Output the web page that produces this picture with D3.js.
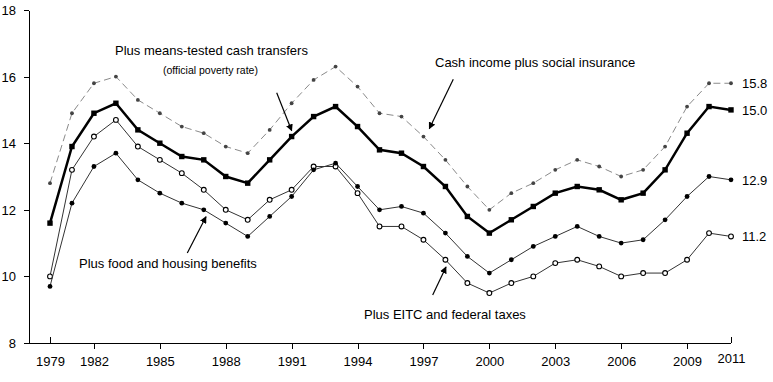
<!DOCTYPE html>
<html>
<head>
  <meta charset="utf-8">
  <script src="https://d3js.org/d3.v7.min.js"></script>
  <style>
    body { margin: 0; background: #fff; }
    text { font-family: 'Liberation Sans', Arial, sans-serif; fill: #000; }
    .axis text { font-size: 13px; }
    .axis path, .axis line { stroke: #000; shape-rendering: crispEdges; }
  </style>
</head>
<body>
<div id="chart"></div>
<script>
  // years on the chart (1980 is not in the series)
  var years = [1979, 1981, 1982, 1983, 1984, 1985, 1986, 1987, 1988, 1989, 1990,
    1991, 1992, 1993, 1994, 1995, 1996, 1997, 1998, 1999, 2000,
    2001, 2002, 2003, 2004, 2005, 2006, 2007, 2008, 2009, 2010, 2011];

  var socialIns = [12.8, 14.9, 15.8, 16.0, 15.3, 14.9, 14.5, 14.3, 13.9, 13.7, 14.4,
    15.2, 15.9, 16.3, 15.7, 14.9, 14.8, 14.2, 13.5, 12.7, 12.0,
    12.5, 12.8, 13.2, 13.5, 13.3, 13.0, 13.2, 13.9, 15.1, 15.8, 15.8];

  var officialRate = [11.6, 13.9, 14.9, 15.2, 14.4, 14.0, 13.6, 13.5, 13.0, 12.8, 13.5,
    14.2, 14.8, 15.1, 14.5, 13.8, 13.7, 13.3, 12.7, 11.8, 11.3,
    11.7, 12.1, 12.5, 12.7, 12.6, 12.3, 12.5, 13.2, 14.3, 15.1, 15.0];

  var foodHousing = [9.7, 12.2, 13.3, 13.7, 12.9, 12.5, 12.2, 12.0, 11.6, 11.2, 11.8,
    12.4, 13.2, 13.4, 12.7, 12.0, 12.1, 11.9, 11.3, 10.6, 10.1,
    10.5, 10.9, 11.2, 11.5, 11.2, 11.0, 11.1, 11.7, 12.4, 13.0, 12.9];

  var eitcTaxes = [10.0, 13.2, 14.2, 14.7, 13.9, 13.5, 13.1, 12.6, 12.0, 11.7, 12.3,
    12.6, 13.3, 13.3, 12.5, 11.5, 11.5, 11.1, 10.5, 9.8, 9.5,
    9.8, 10.0, 10.4, 10.5, 10.3, 10.0, 10.1, 10.1, 10.5, 11.3, 11.2];

  var xTicks = [1979, 1982, 1985, 1988, 1991, 1994, 1997, 2000, 2003, 2006, 2009, 2011];
  var yTicks = [8, 10, 12, 14, 16, 18];

  var width = 773, height = 382;
  var plot = { left: 29, top: 10, right: 731, bottom: 343 };

  var svg = d3.select("#chart").append("svg")
    .attr("width", width)
    .attr("height", height);

  var x = d3.scalePoint()
    .domain(years)
    .range([plot.left + 21, plot.right]);

  var y = d3.scaleLinear()
    .domain([8, 18])
    .range([plot.bottom, plot.top]);

  // y axis
  svg.append("g")
    .attr("class", "axis")
    .attr("transform", "translate(" + plot.left + ",0)")
    .call(d3.axisLeft(y).tickValues(yTicks).tickSize(5).tickSizeOuter(0).tickPadding(8))
    .selectAll("text").attr("dy", "0.35em");

  // x axis
  var xAxis = svg.append("g")
    .attr("class", "axis")
    .attr("transform", "translate(0," + plot.bottom + ")")
    .call(d3.axisBottom(x).tickValues(xTicks).tickSize(6).tickPadding(8));
  xAxis.select(".domain").remove();
  xAxis.append("line")
    .attr("x1", plot.left).attr("x2", plot.right)
    .attr("stroke", "#000");
  // the first and last ticks point up
  xAxis.selectAll(".tick")
    .filter(function (d) { return d == 1979 || d == 2011; })
    .select("line").attr("y2", -6);
  xAxis.selectAll(".tick")
    .filter(function (d) { return d == 2011; })
    .select("text").attr("y", 11);

  var series = [
    { name: "eitc", values: eitcTaxes, stroke: "#333", width: 1, dash: null, marker: "open" },
    { name: "food", values: foodHousing, stroke: "#333", width: 1, dash: null, marker: "dot" },
    { name: "social", values: socialIns, stroke: "#8a8a8a", width: 1, dash: "7,4", marker: "small" },
    { name: "official", values: officialRate, stroke: "#000", width: 2.5, dash: null, marker: "square" }
  ];

  var line = d3.line()
    .x(function (d) { return x(d.year); })
    .y(function (d) { return y(d.value); });

  series.forEach(function (s) {
    var pts = years.map(function (yr, i) { return { year: yr, value: s.values[i] }; });
    var g = svg.append("g").attr("class", "series-" + s.name);

    g.append("path")
      .datum(pts)
      .attr("d", line)
      .attr("fill", "none")
      .attr("stroke", s.stroke)
      .attr("stroke-width", s.width)
      .attr("stroke-dasharray", s.dash);

    if (s.marker == "square") {
      g.selectAll("rect").data(pts).enter().append("rect")
        .attr("x", function (d) { return x(d.year) - 2.7; })
        .attr("y", function (d) { return y(d.value) - 2.7; })
        .attr("width", 5.4).attr("height", 5.4)
        .attr("fill", "#000");
    } else {
      g.selectAll("circle").data(pts).enter().append("circle")
        .attr("cx", function (d) { return x(d.year); })
        .attr("cy", function (d) { return y(d.value); })
        .attr("r", s.marker == "small" ? 1.9 : 2.4)
        .attr("fill", s.marker == "open" ? "#fff" : (s.marker == "small" ? "#444" : "#000"))
        .attr("stroke", s.marker == "open" ? "#000" : "none")
        .attr("stroke-width", 1.1);
    }

    // value at the end of the line
    var last = pts[pts.length - 1];
    svg.append("text")
      .attr("x", x(last.year) + 11)
      .attr("y", y(last.value))
      .attr("dy", "0.36em")
      .style("font-size", "13px")
      .text(last.value.toFixed(1));
  });

  // labels and arrows
  var defs = svg.append("defs");
  defs.append("marker")
    .attr("id", "arrow")
    .attr("viewBox", "0 0 10 10")
    .attr("refX", 9).attr("refY", 5)
    .attr("markerWidth", 7).attr("markerHeight", 7)
    .attr("markerUnits", "userSpaceOnUse")
    .attr("orient", "auto")
    .append("path")
    .attr("d", "M0,0 L10,5 L0,10 z")
    .attr("fill", "#000");

  var notes = [
    { text: "Plus means-tested cash transfers", x: 115, y: 50, size: 13 },
    { text: "(official poverty rate)", x: 163, y: 70, size: 10.5 },
    { text: "Cash income plus social insurance", x: 435, y: 62, size: 13 },
    { text: "Plus food and housing benefits", x: 79, y: 263, size: 13 },
    { text: "Plus EITC and federal taxes", x: 364, y: 314, size: 13 }
  ];

  var arrows = [
    [276.7, 92.7, 291.7, 130.7],
    [453.3, 79.3, 429.3, 128.7],
    [187.3, 253, 206, 216.7],
    [432.7, 295, 446, 267]
  ];

  svg.selectAll(".note").data(notes).enter().append("text")
    .attr("class", "note")
    .attr("x", function (d) { return d.x; })
    .attr("y", function (d) { return d.y; })
    .attr("dy", "0.36em")
    .style("font-size", function (d) { return d.size + "px"; })
    .text(function (d) { return d.text; });

  svg.selectAll(".arrow").data(arrows).enter().append("line")
    .attr("class", "arrow")
    .attr("x1", function (d) { return d[0]; })
    .attr("y1", function (d) { return d[1]; })
    .attr("x2", function (d) { return d[2]; })
    .attr("y2", function (d) { return d[3]; })
    .attr("stroke", "#000")
    .attr("stroke-width", 1.2)
    .attr("marker-end", "url(#arrow)");
</script>
</body>
</html>
